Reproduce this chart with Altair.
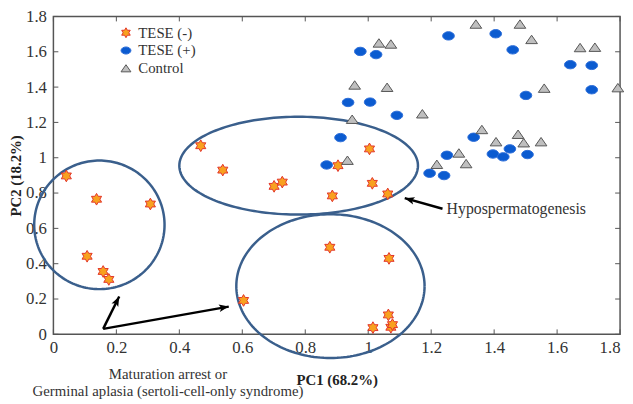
import math
import altair as alt
import pandas as pd

# ---------------- data ----------------
groups = ["TESE (-)", "TESE (+)", "Control"]

tese_neg_x = [0.041, 0.137, 0.308, 0.107, 0.158, 0.176, 0.604, 0.468, 0.538, 0.701, 0.727,
              1.004, 0.904, 1.013, 0.886, 1.062, 0.878, 1.066, 1.064, 1.015, 1.072, 1.077]
tese_neg_y = [0.897, 0.765, 0.738, 0.442, 0.356, 0.311, 0.192, 1.068, 0.930, 0.838, 0.862,
              1.050, 0.955, 0.855, 0.784, 0.795, 0.493, 0.430, 0.110, 0.038, 0.040, 0.055]

tese_pos_x = [1.255, 1.405, 1.459, 0.975, 1.025, 1.642, 1.710, 1.710, 1.501, 0.936, 1.006,
              1.091, 0.912, 1.335, 1.250, 0.868, 1.396, 1.429, 1.450, 1.506, 1.195, 1.241]
tese_pos_y = [1.690, 1.702, 1.611, 1.602, 1.584, 1.527, 1.523, 1.385, 1.353, 1.313, 1.315,
              1.240, 1.114, 1.116, 1.014, 0.959, 1.021, 1.005, 1.050, 1.018, 0.912, 0.899]

control_x = [1.342, 1.482, 1.519, 1.034, 1.072, 1.673, 1.720, 0.957, 1.060, 1.559, 1.793,
             1.172, 0.949, 1.361, 1.476, 1.406, 1.494, 1.549, 1.288, 0.934, 1.218, 1.311]
control_y = [1.757, 1.757, 1.670, 1.650, 1.644, 1.624, 1.626, 1.412, 1.399, 1.394, 1.397,
             1.249, 1.218, 1.160, 1.133, 1.091, 1.085, 1.091, 1.027, 0.986, 0.963, 0.967]

# cluster ellipses (centre and radii in data units)
ell_cx = [0.146, 0.779, 0.880]
ell_cy = [0.620, 0.955, 0.273]
ell_rx = [0.207, 0.379, 0.299]
ell_ry = [0.364, 0.277, 0.407]

# arrows (tail -> head, data units)
arrow_x0 = [1.236, 0.158, 0.158]
arrow_y0 = [0.711, 0.031, 0.031]
arrow_x1 = [1.116, 0.209, 0.557]
arrow_y1 = [0.771, 0.214, 0.157]

# annotations
note_text = ["Hypospermatogenesis"]
note_x = [1.249]
note_y = [0.711]
caption_text = ["Maturation arrest or", "Germinal aplasia (sertoli-cell-only syndrome)"]
caption_x = [0.364, 0.364]
caption_y = [-0.226, -0.322]

tick_vals = [0, 0.2, 0.4, 0.6, 0.8, 1.0, 1.2, 1.4, 1.6, 1.8]

# ---------------- styling ----------------
W, H = 574, 322
DMAX = 1.8
FONT = "Liberation Serif"

star_path = ("M0,-1 L0.2887,-0.5 L0.866,-0.5 L0.577,0 L0.866,0.5 L0.2887,0.5 "
             "L0,1 L-0.2887,0.5 L-0.866,0.5 L-0.577,0 L-0.866,-0.5 L-0.2887,-0.5 Z")
ellipse_path = "M-1,0 A1,0.72 0 1,0 1,0 A1,0.72 0 1,0 -1,0 Z"
tri_path = "M0,-0.72 L1,0.72 L-1,0.72 Z"
shapes = [star_path, ellipse_path, tri_path]
fills = ["#f8a11f", "#0b5bd0", "#bfbfbf"]
strokes = ["#e3342a", "#2f6fd8", "#555555"]

xs = alt.Scale(domain=[0, DMAX], nice=False, zero=False)
ys = alt.Scale(domain=[0, DMAX], nice=False, zero=False)

xaxis = alt.Axis(values=tick_vals, format="~g", title="PC1 (68.2%)", ticks=False, domain=False,
                 grid=False, labelPadding=5, titlePadding=18, labelFlush=False, labelOverlap=False,
                 labelAlign={"condition": {"test": "datum.value >= 1.8", "value": "right"},
                             "value": "center"})
yaxis = alt.Axis(values=tick_vals, format="~g", title="PC2 (18.2%)", ticks=False, domain=False,
                 grid=False, labelPadding=7, titlePadding=2, labelFlush=False, labelOverlap=False)

X = lambda f="x": alt.X(f"{f}:Q", scale=xs, axis=xaxis)
Y = lambda f="y": alt.Y(f"{f}:Q", scale=ys, axis=yaxis)

# ---------------- tables ----------------
rows = []
for gx, gy, g in [(tese_pos_x, tese_pos_y, groups[1]),
                  (tese_neg_x, tese_neg_y, groups[0]),
                  (control_x, control_y, groups[2])]:
    for a, b in zip(gx, gy):
        rows.append({"x": a, "y": b, "group": g})
pts_df = pd.DataFrame(rows)

ell_rows = []
N = 180
for k in range(len(ell_cx)):
    for i in range(N + 1):
        t = 2 * math.pi * i / N
        ell_rows.append({"x": ell_cx[k] + ell_rx[k] * math.cos(t),
                         "y": ell_cy[k] + ell_ry[k] * math.sin(t),
                         "e": k, "o": i})
ell_df = pd.DataFrame(ell_rows)

px_x = W / DMAX
px_y = H / DMAX
arr_rows = []
for x0, y0, x1, y1 in zip(arrow_x0, arrow_y0, arrow_x1, arrow_y1):
    dx = (x1 - x0) * px_x
    dy = -(y1 - y0) * px_y
    ang = math.degrees(math.atan2(dx, -dy)) % 360
    arr_rows.append({"x": x0, "y": y0, "x2": x1, "y2": y1, "ang": ang})
arr_df = pd.DataFrame(arr_rows)

ticks_df = pd.DataFrame({"x": tick_vals, "y": tick_vals})
note_df = pd.DataFrame({"x": note_x, "y": note_y, "t": note_text})
cap_df = pd.DataFrame({"x": caption_x, "y": caption_y, "t": caption_text})

# ---------------- layers ----------------
ellipses = alt.Chart(ell_df).mark_line(color="#3a5f8c", strokeWidth=2.5, clip=False).encode(
    x=X(), y=Y(), detail="e:N", order="o:Q")

legend = alt.Legend(title=None, orient="none", legendX=66, legendY=9, padding=0,
                    labelFont=FONT, labelFontSize=15, labelColor="#333333",
                    symbolSize=100, symbolStrokeWidth=1, labelOffset=5, rowPadding=2)

points = alt.Chart(pts_df).mark_point(filled=True, size=140, strokeWidth=1, opacity=1).encode(
    x=X(), y=Y(),
    shape=alt.Shape("group:N", scale=alt.Scale(domain=groups, range=shapes), legend=legend),
    fill=alt.Fill("group:N", scale=alt.Scale(domain=groups, range=fills), legend=legend),
    stroke=alt.Stroke("group:N", scale=alt.Scale(domain=groups, range=strokes), legend=legend),
)

shafts = alt.Chart(arr_df).mark_rule(color="black", strokeWidth=2.5).encode(
    x=X(), y=Y(), x2="x2:Q", y2="y2:Q")
heads = alt.Chart(arr_df).mark_point(
    shape="M0,0 L0.5,1.3 L0,1 L-0.5,1.3 Z", filled=True, color="black", size=230, opacity=1
).encode(x=X("x2"), y=Y("y2"), angle=alt.Angle("ang:Q", scale=None))

bottom_ticks = alt.Chart(ticks_df).mark_rule(color="#555555", strokeWidth=1).encode(
    x=X(), y=alt.value(H), y2=alt.value(H - 5))
top_ticks = alt.Chart(ticks_df).mark_rule(color="#555555", strokeWidth=1).encode(
    x=X(), y=alt.value(0), y2=alt.value(5))
left_ticks = alt.Chart(ticks_df).mark_rule(color="#555555", strokeWidth=1).encode(
    y=Y(), x=alt.value(0), x2=alt.value(5))
right_ticks = alt.Chart(ticks_df).mark_rule(color="#555555", strokeWidth=1).encode(
    y=Y(), x=alt.value(W), x2=alt.value(W - 5))

note = alt.Chart(note_df).mark_text(align="left", baseline="middle", font=FONT, fontSize=16,
                                    color="#333333").encode(x=X(), y=Y(), text="t:N")
caption = alt.Chart(cap_df).mark_text(align="center", baseline="middle", font=FONT, fontSize=15,
                                      color="#333333").encode(x=X(), y=Y(), text="t:N")

chart = alt.layer(
    ellipses, bottom_ticks, top_ticks, left_ticks, right_ticks,
    points, shafts, heads, note, caption
).properties(
    width=W, height=H,
    autosize=alt.AutoSizeParams(type="none"),
    padding={"left": 46, "top": 6, "right": 5, "bottom": 68},
).configure_view(
    stroke="#555555", strokeWidth=1.5
).configure_axis(
    labelFont=FONT, labelFontSize=17, labelColor="#333333",
    titleFont=FONT, titleFontSize=15, titleFontWeight="bold", titleColor="#222222",
)

chart.save("out.html", embed_options={"renderer": "svg", "actions": False})
